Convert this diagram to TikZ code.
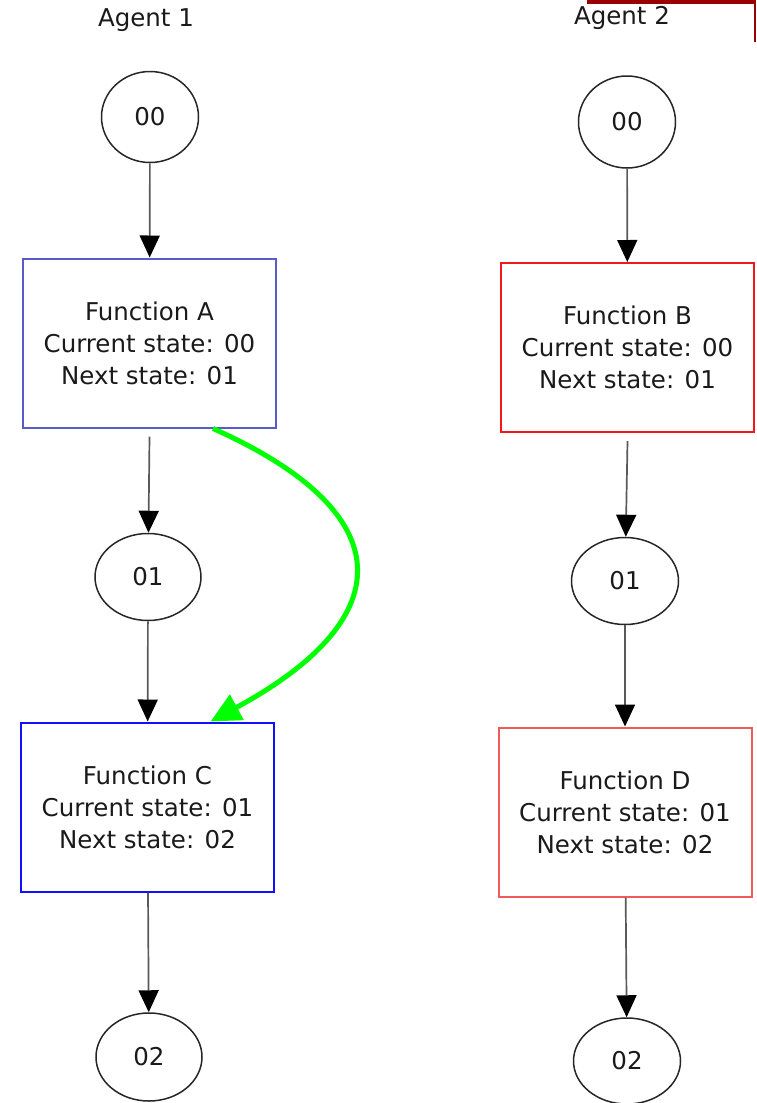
\documentclass[tikz,border=0pt]{standalone}
\usepackage{fontspec}
\setmainfont{DejaVu Sans}
\usetikzlibrary{arrows.meta,shapes.geometric}
\definecolor{txt}{HTML}{1A1A1A}
\definecolor{slateA}{HTML}{5A5AC8}
\definecolor{blueC}{HTML}{1010FF}
\definecolor{redB}{HTML}{F01818}
\definecolor{redD}{HTML}{F05A5A}
\definecolor{frameRed}{HTML}{990000}
\definecolor{hop}{HTML}{00FF00}
\begin{document}
\begin{tikzpicture}[x=1pt,y=-1pt,
  every node/.style={font=\fontsize{24.5}{32}\selectfont, text=txt},
  state/.style={ellipse, draw=black!85, line width=1.5pt, inner sep=0pt},
  func/.style={rectangle, line width=2pt, align=center, inner sep=0pt,
               minimum width=253pt, minimum height=169pt},
  flow/.style={draw=black!65, line width=1.7pt,
               -{Triangle[length=22pt,width=20pt,black]}},
  jump/.style={draw=hop, line width=5pt,
               -{Triangle[length=30pt,width=28pt,hop]}}
]
\useasboundingbox (0,0) rectangle (756,1103);

% frame corner at the top right
\fill[frameRed] (587,0) rectangle (756,3.5);
\draw[frameRed, line width=1.2pt] (755,0) -- (755,42);

% column titles
\node (t1) at (146,20) {Agent 1};
\node (t2) at (622,18) {Agent 2};

% Agent 1
\node[state, minimum width=97pt, minimum height=91pt] (a0) at (150,117) {00};
\node[func, draw=slateA] (fa) at (149.5,343) {Function A\\Current state: 00\\Next state: 01};
\node[state, minimum width=106pt, minimum height=87pt] (a1) at (148,577) {01};
\node[func, draw=blueC] (fc) at (147.5,807) {Function C\\Current state: 01\\Next state: 02};
\node[state, minimum width=106pt, minimum height=88pt] (a2) at (149,1057) {02};

% Agent 2
\node[state, minimum width=97pt, minimum height=92pt] (b0) at (627,122) {00};
\node[func, draw=redB] (fb) at (627.5,347.5) {Function B\\Current state: 00\\Next state: 01};
\node[state, minimum width=107pt, minimum height=87pt] (b1) at (625,581) {01};
\node[func, draw=redD] (fd) at (625,812) {Function D\\Current state: 01\\Next state: 02};
\node[state, minimum width=107pt, minimum height=86pt] (b2) at (627,1061) {02};

% transitions
\draw[flow] (a0) -- (fa);
\draw[flow] ([yshift=-8pt]fa.south) -- (a1);
\draw[flow] (a1) -- (fc);
\draw[flow] (fc) -- (a2);

\draw[flow] (b0) -- (fb);
\draw[flow] ([yshift=-8pt]fb.south) -- (b1);
\draw[flow] (b1) -- (fd);
\draw[flow] (fd) -- (b2);

% shortcut from Function A to Function C
\draw[jump] ([xshift=63.5pt]fa.south) .. controls +(188,84) and +(192,-104) .. ([xshift=63pt]fc.north);
\end{tikzpicture}
\end{document}
